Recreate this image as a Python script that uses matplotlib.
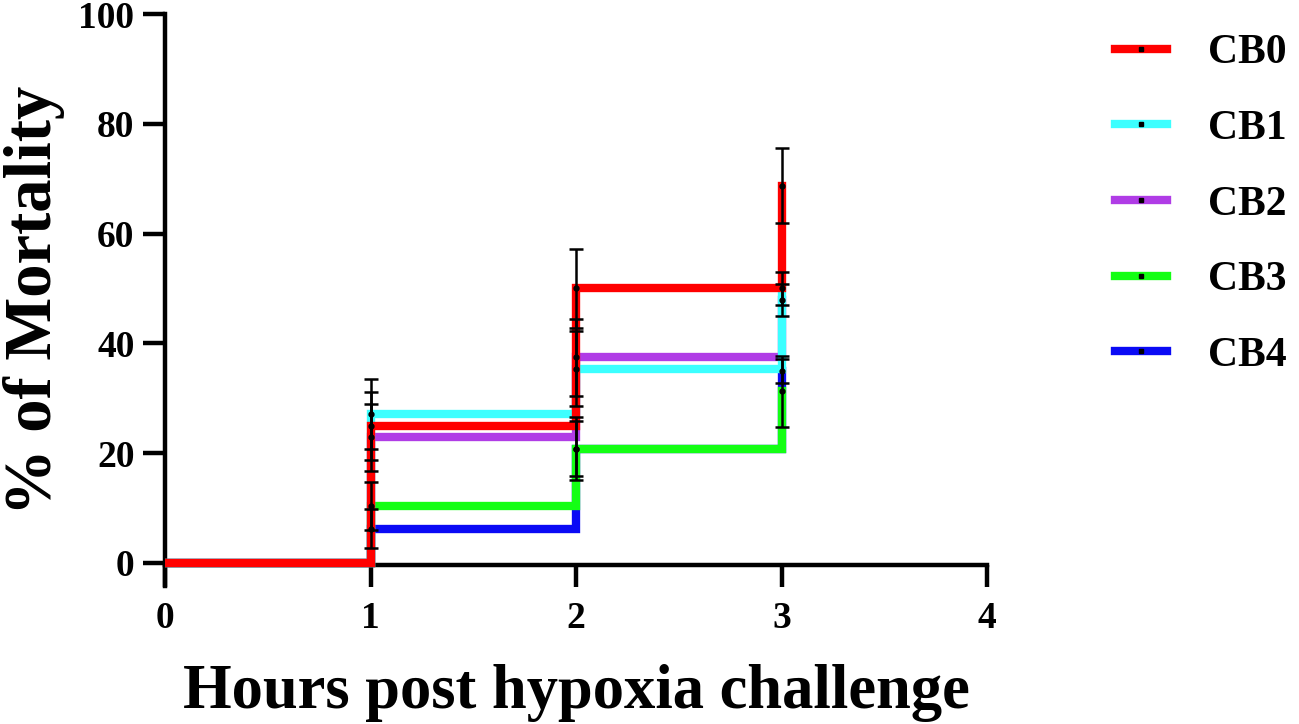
import matplotlib
matplotlib.use("Agg")
import matplotlib.pyplot as plt
from matplotlib.lines import Line2D

plt.rcParams['font.family'] = ['Liberation Serif', 'DejaVu Serif']
plt.rcParams['font.weight'] = 'bold'

hours = [0, 1, 2, 3]
groups = ["CB0", "CB1", "CB2", "CB3", "CB4"]
colors = ["#ff0000", "#3cffff", "#b03ce6", "#14ff14", "#0a0af5"]

cb0 = [0, 25.0, 50.0, 68.75]
cb1 = [0, 27.1, 35.4, 50.0]
cb2 = [0, 22.9, 37.5, 47.9]
cb3 = [0, 10.4, 20.8, 31.25]
cb4 = [0, 6.25, 20.8, 35.0]

cb0_err = [0, 6.2, 7.2, 6.8]
cb1_err = [0, 6.4, 6.8, 3.0]
cb2_err = [0, 6.1, 7.0, 3.0]
cb3_err = [0, 4.4, 5.7, 6.5]
cb4_err = [0, 3.5, 5.0, 2.2]

means = [cb0, cb1, cb2, cb3, cb4]
errs = [cb0_err, cb1_err, cb2_err, cb3_err, cb4_err]
# stacking order seen in the figure (bottom -> top)
z_order = {"CB4": 2, "CB3": 3, "CB2": 4, "CB1": 5, "CB0": 6}

fig = plt.figure(figsize=(12.99, 7.24), dpi=100)
ax = fig.add_axes([0.127, 0.1906, 0.633, 0.790])

for name, m, e, c in zip(groups, means, errs, colors):
    ax.plot(hours, m, drawstyle="steps-post", color=c, lw=6,
            solid_joinstyle="miter", zorder=z_order[name])
    ax.errorbar(hours[1:], m[1:], yerr=e[1:], fmt="o", color="k",
                markersize=3.5, elinewidth=1.8, capsize=5, capthick=1.8,
                zorder=10)

ax.set_xlim(0, 4)
ax.set_ylim(-4.2, 100)
ax.set_xticks([0, 1, 2, 3, 4])
ax.set_yticks([0, 20, 40, 60, 80, 100])
ax.spines['top'].set_visible(False)
ax.spines['right'].set_visible(False)
ax.spines['bottom'].set_position(('data', -0.4))
for s in ['left', 'bottom']:
    ax.spines[s].set_linewidth(3.2)
ax.tick_params(axis='both', width=3.2, length=16, labelsize=27)
ax.tick_params(axis='x', pad=10)
ax.tick_params(axis='y', pad=6)
for lab in ax.get_xticklabels() + ax.get_yticklabels():
    lab.set_fontweight('bold')

ax.set_xlabel("Hours post hypoxia challenge", fontsize=45, fontweight='bold', labelpad=20)
ax.set_ylabel("% of Mortality", fontsize=48, fontweight='bold', labelpad=10)

handles = [Line2D([0], [0], color=c, lw=6, marker='s', markersize=3.5,
                  markerfacecolor='k', markeredgecolor='k') for c in colors]
fig.legend(handles, groups, loc='upper left', bbox_to_anchor=(0.858, 0.953),
           frameon=False, handlelength=1.25, handletextpad=1.0,
           labelspacing=0.9, borderpad=0, borderaxespad=0, numpoints=1,
           prop={'weight': 'bold', 'size': 30})

fig.savefig("out.png", dpi=100)
